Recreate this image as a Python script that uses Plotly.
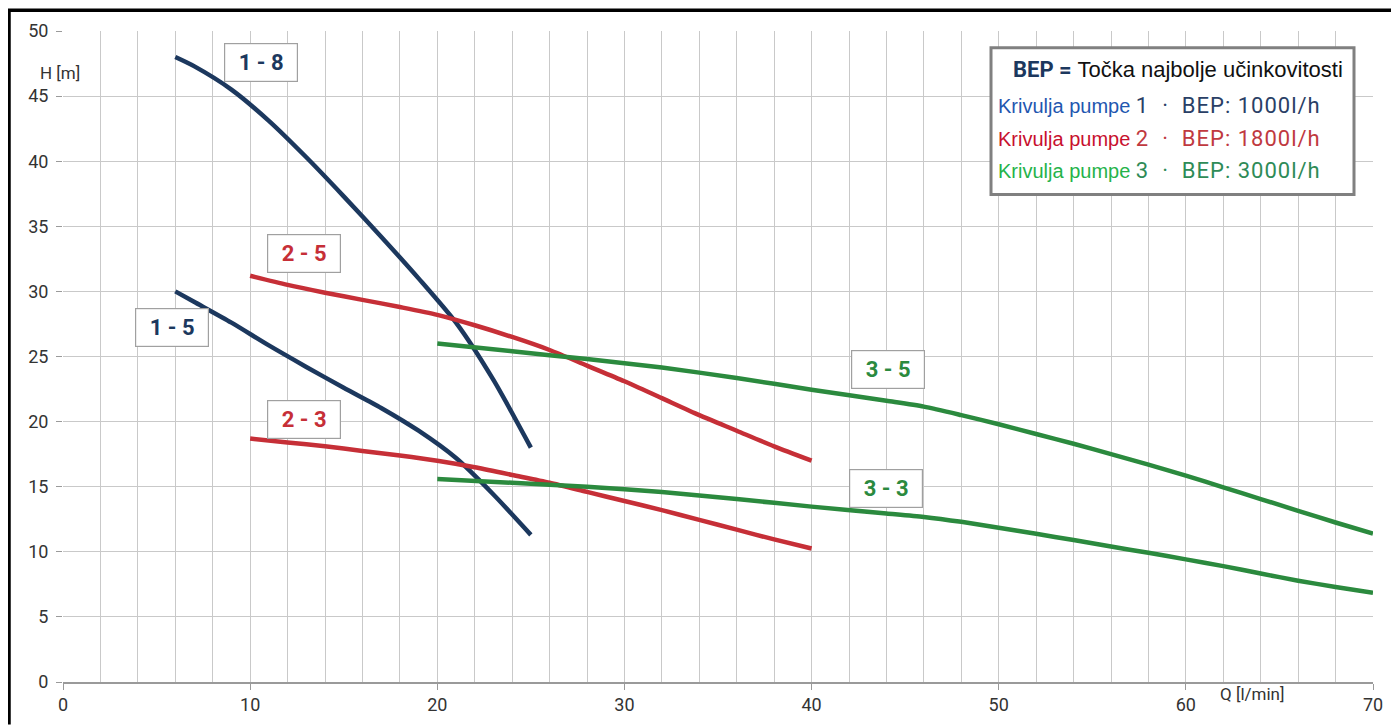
import plotly.graph_objects as go

# ---- data ----
q_18 = [6, 7, 9, 11, 13, 15, 17, 19, 21, 23, 25]
h_18 = [48.0, 47.3, 45.5, 43.1, 40.3, 37.3, 34.2, 31.0, 27.6, 23.2, 18.0]

q_15 = [6, 7, 9, 11, 13, 15, 17, 19, 21, 23, 25]
h_15 = [30.0, 29.2, 27.6, 25.85, 24.2, 22.6, 21.05, 19.3, 17.2, 14.4, 11.3]

q_25 = [10, 12, 14, 16, 18, 20, 22, 24, 26, 28, 30, 32, 34, 36, 38, 40]
h_25 = [31.2, 30.5, 29.9, 29.35, 28.8, 28.2, 27.4, 26.5, 25.5, 24.3, 23.1, 21.8, 20.5, 19.3, 18.1, 17.0]

q_23 = [10, 12, 14, 16, 18, 20, 22, 24, 26, 28, 30, 32, 34, 36, 38, 40]
h_23 = [18.7, 18.4, 18.1, 17.75, 17.4, 17.0, 16.5, 15.9, 15.3, 14.6, 13.9, 13.2, 12.45, 11.7, 10.95, 10.25]

q_35 = [20, 24, 28, 32, 36, 40, 44, 46, 48, 50, 52, 54, 56, 58, 60, 62, 64, 66, 68, 70]
h_35 = [26.0, 25.4, 24.8, 24.15, 23.35, 22.45, 21.6, 21.15, 20.5, 19.8, 19.05, 18.3, 17.5, 16.7, 15.85, 14.95, 14.05, 13.15, 12.25, 11.4]

q_33 = [20, 24, 28, 32, 36, 40, 44, 46, 48, 50, 52, 54, 56, 58, 60, 62, 64, 66, 68, 70]
h_33 = [15.6, 15.3, 15.0, 14.6, 14.05, 13.47, 12.95, 12.68, 12.3, 11.85, 11.38, 10.9, 10.4, 9.92, 9.42, 8.9, 8.33, 7.78, 7.3, 6.85]

curve_labels = ["1-8", "1-5", "2-5", "2-3", "3-5", "3-3"]
label_x = [10.6, 5.8, 12.9, 12.9, 44.1, 44.0]
label_y = [47.6, 27.2, 32.9, 20.2, 24.0, 14.85]

x_ticks = [0, 10, 20, 30, 40, 50, 60, 70]
y_ticks = [0, 5, 10, 15, 20, 25, 30, 35, 40, 45, 50]

NAVY = "#1c385e"
RED = "#c62f37"
GREEN = "#2b8a3e"

series = [
    (q_18, h_18, NAVY),
    (q_15, h_15, NAVY),
    (q_25, h_25, RED),
    (q_23, h_23, RED),
    (q_35, h_35, GREEN),
    (q_33, h_33, GREEN),
]
label_colors = [NAVY, NAVY, RED, RED, GREEN, GREEN]

# page has an 8px body margin, so the figure is drawn 8px in from the top-left
OFF = 8
W, H = 1399 - OFF, 727 - OFF
L, R, T, B = 63 - OFF, 26, 30 - OFF, 40
PW, PH = W - L - R, H - T - B


def px(xs):
    return (xs - OFF - L) / PW


def py(ys):
    return (H - B - (ys - OFF)) / PH


fig = go.Figure()
for (qx, hy, col), name in zip(series, curve_labels):
    fig.add_trace(go.Scatter(
        x=qx, y=hy, mode="lines", name=name,
        line=dict(color=col, width=4.5, shape="spline", smoothing=0.7),
        showlegend=False, hoverinfo="skip",
    ))

for txt, lx, ly, col in zip(curve_labels, label_x, label_y, label_colors):
    fig.add_annotation(
        x=lx, y=ly, xref="x", yref="y", text="<b>" + txt.replace("-", " - ") + "</b>",
        showarrow=False, font=dict(family="Roboto", size=22, color=col),
        bgcolor="white", bordercolor="#a0a0a0", borderwidth=1.2,
        width=66, height=31, borderpad=3,
    )

fig.add_shape(type="rect", xref="paper", yref="paper",
              x0=px(991), x1=px(1354), y0=py(195), y1=py(47),
              line=dict(color="#808080", width=3), fillcolor="white", layer="above")

fig.add_annotation(
    xref="paper", yref="paper", x=px(1345), y=py(69), xanchor="right", yanchor="middle",
    showarrow=False,
    text="<span style='font-family:Roboto;color:#1c385e'><b>BEP =</b></span> "
         "<span style='color:#111111'>Točka najbolje učinkovitosti</span>",
    font=dict(family="Liberation Sans", size=22, color="#111111"),
)
legend_rows = [
    ("Krivulja pumpe", "#1f57b0", "1", "1000l/h", "#2a3f66", 105),
    ("Krivulja pumpe", "#c8102e", "2", "1800l/h", "#c0393f", 138),
    ("Krivulja pumpe", "#25b34a", "3", "3000l/h", "#2e8b57", 171),
]
for lbl, c1, num, bep, c2, yy in legend_rows:
    fig.add_annotation(
        xref="paper", yref="paper", x=px(996), y=py(yy), xanchor="left", yanchor="middle",
        showarrow=False,
        text=f"<span style='color:{c1}'>{lbl}</span> "
             f"<span style='font-family:Roboto;font-size:22px;letter-spacing:1px;color:{c2}'>{num}  ·  BEP: {bep}</span>",
        font=dict(family="Liberation Sans", size=20, color=c1),
    )

fig.add_annotation(xref="paper", yref="paper", x=px(38), y=py(60), text="H [m]",
                   showarrow=False, font=dict(family="Roboto", size=17, color="#333333"))
fig.add_annotation(xref="paper", yref="paper", x=px(1287), y=py(711), text="Q [l/min]",
                   showarrow=False, font=dict(family="Roboto", size=17, color="#333333"))

# black outer frame (left and top)
fig.add_shape(type="line", xref="paper", yref="paper", x0=px(9), x1=px(9), y0=py(730), y1=py(9),
              line=dict(color="black", width=3.5))
fig.add_shape(type="line", xref="paper", yref="paper", x0=px(8), x1=px(1402), y0=py(9), y1=py(9),
              line=dict(color="black", width=3.5))

fig.update_xaxes(
    range=[0, 70], tickvals=x_ticks, ticktext=[str(v) for v in x_ticks],
    showgrid=True, gridcolor="#c9c9c9", gridwidth=1.3,
    minor=dict(dtick=2, showgrid=True, gridcolor="#c9c9c9", gridwidth=1.3),
    zeroline=False, showline=True, linecolor="#9a9a9a", linewidth=1.5,
    ticks="outside", ticklen=6, tickcolor="#9a9a9a",
    tickfont=dict(family="Roboto", size=18, color="#333333"),
)
fig.update_yaxes(
    range=[0, 50], tickvals=y_ticks, ticktext=[str(v) for v in y_ticks],
    showgrid=True, gridcolor="#c9c9c9", gridwidth=1.3,
    zeroline=False, showline=False,
    ticks="outside", ticklen=6, tickcolor="#9a9a9a", ticklabelstandoff=4,
    tickfont=dict(family="Roboto", size=18, color="#333333"),
)

fig.update_layout(
    width=W, height=H,
    margin=dict(l=L, r=R, t=T, b=B),
    plot_bgcolor="white", paper_bgcolor="white",
)

fig.write_html("out.html")
